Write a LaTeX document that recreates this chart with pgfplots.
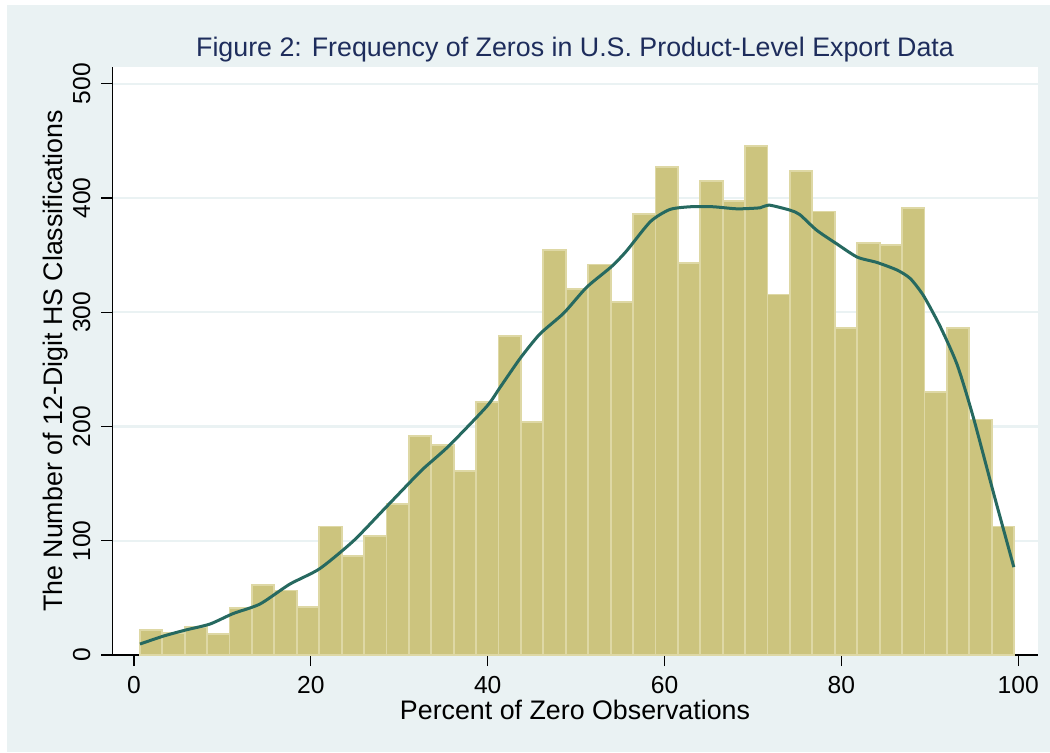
\documentclass[border=0pt]{standalone}
\usepackage{pgfplots}
\pgfplotsset{compat=1.18}
\usepackage{fontspec}
\setmainfont{Liberation Sans}
\definecolor{bgc}{RGB}{234,242,243}
\definecolor{barfill}{RGB}{204,196,126}
\definecolor{baredge}{RGB}{222,216,165}
\definecolor{kline}{RGB}{38,105,96}
\definecolor{titlec}{RGB}{30,45,92}
\definecolor{gridc}{RGB}{234,242,243}

\pgfplotstableread{
x y
0.670 21.8
3.205 19.3
5.740 24.8
8.275 18.7
10.810 41.4
13.345 61.1
15.880 56.5
18.415 42.3
20.950 112.5
23.485 86.8
26.020 104.3
28.555 132.1
31.090 191.7
33.625 183.8
36.160 160.8
38.695 221.6
41.230 279.0
43.765 203.8
46.300 354.6
48.835 320.5
51.370 341.9
53.905 308.7
56.440 386.4
58.975 427.2
61.510 342.9
64.045 414.8
66.580 397.3
69.115 445.9
71.650 315.6
74.185 423.9
76.720 388.2
79.255 286.6
81.790 360.7
84.325 359.2
86.860 391.5
89.395 230.4
91.930 286.3
94.465 206.2
97.000 112.5
99.535 112.5
}\bars

\begin{document}
\begin{tikzpicture}
\fill[white] (-56.15bp,-48.5bp) rectangle (468.85bp,327.55bp);
\fill[bgc] (-52.65bp,-48.5bp) rectangle (468.85bp,325.05bp);
\begin{axis}[
  at={(0,0)}, anchor=south west,
  scale only axis, width=462.7bp, height=294.2bp,
  xmin=-2.45, xmax=102.2, ymin=0, ymax=515,
  axis x line*=bottom, axis y line*=left,
  axis line style={black, line width=0.6bp},
  axis background/.style={fill=white},
  xtick={0,20,...,100}, ytick={0,100,...,500},
  tick align=outside, major tick length=5.5bp,
  tick style={black, line width=0.6bp},
  ymajorgrids, grid style={gridc, line width=1.1bp},
  /pgf/number format/assume math mode=true,
  ticklabel style={font=\fontsize{12.3bp}{14bp}\selectfont, inner sep=0pt},
  xticklabel style={anchor=north},
  xticklabel shift=5bp,
  yticklabel style={rotate=90, anchor=south},
  yticklabel shift=5.3bp,
  title={Figure 2: Frequency of Zeros in U.S. Product-Level Export Data},
  title style={at={(axis description cs:0.5,1)}, anchor=base, yshift=-1bp,
    font=\fontsize{13.4bp}{15bp}\selectfont, text=titlec, inner sep=0pt},
  xlabel={Percent of Zero Observations},
  xlabel style={at={(axis description cs:0.5,0)}, anchor=base, yshift=-32bp,
    font=\fontsize{13.4bp}{15bp}\selectfont, inner sep=0pt},
]
\addplot[ybar interval, fill=barfill, draw=baredge, line width=0.9bp] table[x=x,y=y] {\bars};
\addplot[kline, line width=1.5bp, smooth, tension=0.4, mark=none] coordinates {
(0.68,9.7) (3.32,16.6) (5.77,21.8) (8.6,27.2) (11.2,36.3) (14.25,44.7) (17.6,62)
(21.0,75.6) (24.8,99.8) (28.2,127) (30.8,148) (32.7,163) (35.6,183) (39.9,217.7)
(41.4,234.3) (43.7,260) (45.9,281) (48.6,299.3) (51.2,322) (54.0,340) (55.7,353.7)
(58.4,379.4) (60.6,390) (62.9,392.4) (65.5,392.4) (68.2,390.6) (70.8,391.5)
(71.8,393.9) (74.2,389.4) (75.3,385.5) (77.2,371.9) (79.5,359.8) (81.8,348.3)
(84.0,343.7) (86.3,337) (87.8,329.5) (89.3,314.4) (91.2,287.2) (93.1,254)
(94.9,208.6) (97.2,142) (99.5,77)
};
\end{axis}
\node[rotate=90, anchor=base, inner sep=0pt, font=\fontsize{13.4bp}{15bp}\selectfont]
  at (-25bp,147.1bp) {The Number of 12-Digit HS Classifications};
\end{tikzpicture}
\end{document}
